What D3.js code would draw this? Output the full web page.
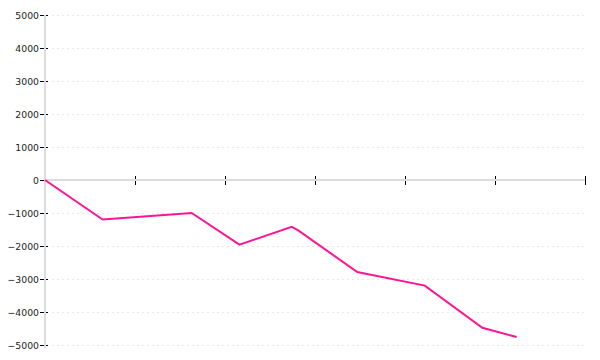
<!DOCTYPE html>
<html>
<head>
<meta charset="utf-8">
<script src="https://cdn.jsdelivr.net/npm/d3@7"></script>
<style>
  body { margin: 0; background: #fff; }
  .tick-label { font-family: "DejaVu Sans", sans-serif; font-size: 9.3px; fill: #222; }
</style>
</head>
<body>
<div id="wrapper"></div>
<script>
// data
const xValues = [0, 6.4, 16.3, 21.6, 27.4, 28.1, 34.7, 42.2, 48.6, 52.4]
const yValues = [0, -1200, -1000, -1960, -1420, -1520, -2790, -3200, -4480, -4760]
const yTicks = [5000, 4000, 3000, 2000, 1000, 0, -1000, -2000, -3000, -4000, -5000]
const xTicks = [0, 10, 20, 30, 40, 50, 60]

const dimensions = {
  width: 600,
  height: 360,
  margin: { top: 15, right: 15, bottom: 15, left: 45 },
}
dimensions.boundedWidth = dimensions.width - dimensions.margin.left - dimensions.margin.right
dimensions.boundedHeight = dimensions.height - dimensions.margin.top - dimensions.margin.bottom

const svg = d3.select("#wrapper").append("svg")
    .attr("width", dimensions.width)
    .attr("height", dimensions.height)

const xScale = d3.scaleLinear()
    .domain([0, 60])
    .range([dimensions.margin.left, dimensions.margin.left + dimensions.boundedWidth])

const yScale = d3.scaleLinear()
    .domain([-5000, 5000])
    .range([dimensions.margin.top + dimensions.boundedHeight, dimensions.margin.top])

const fmt = d3.format("d")
const x0 = xScale(0)
const y0 = yScale(0)

// grid
svg.append("g").selectAll("line")
  .data(yTicks.filter(d => d != 0))
  .enter().append("line")
    .attr("x1", x0 + 7)
    .attr("x2", xScale(60))
    .attr("y1", d => Math.round(yScale(d)) + 0.5)
    .attr("y2", d => Math.round(yScale(d)) + 0.5)
    .attr("stroke", "#e8e8e8")
    .attr("stroke-dasharray", "2,3")

// y ticks + labels
const yTickG = svg.append("g").selectAll("g")
  .data(yTicks)
  .enter().append("g")
    .attr("transform", d => `translate(0, ${Math.round(yScale(d)) + 0.5})`)
yTickG.append("line")
    .attr("x1", x0 - 5)
    .attr("x2", x0 + 3)
    .attr("stroke", "#000")
yTickG.append("text")
    .attr("class", "tick-label")
    .attr("x", x0 - 6)
    .attr("dy", "0.35em")
    .attr("text-anchor", "end")
    .text(d => d < 0 ? "\u2212" + fmt(-d) : fmt(d))

// x ticks
svg.append("g").selectAll("line")
  .data(xTicks)
  .enter().append("line")
    .attr("x1", d => Math.round(xScale(d)) + 0.5)
    .attr("x2", d => Math.round(xScale(d)) + 0.5)
    .attr("y1", y0 - 4)
    .attr("y2", y0 + 5)
    .attr("stroke", "#000")

// axis lines
svg.append("line")
    .attr("x1", x0).attr("x2", x0)
    .attr("y1", yScale(5000)).attr("y2", yScale(-5000) + 3)
    .attr("stroke", "#ddd")
    .attr("stroke-width", 2)
svg.append("line")
    .attr("x1", x0).attr("x2", xScale(60))
    .attr("y1", y0).attr("y2", y0)
    .attr("stroke", "#ddd")
    .attr("stroke-width", 2)

// series
const lineGenerator = d3.line()
    .x(i => xScale(xValues[i]))
    .y(i => yScale(yValues[i]))

svg.append("path")
    .attr("d", lineGenerator(d3.range(xValues.length)))
    .attr("fill", "none")
    .attr("stroke", "#ff1493")
    .attr("stroke-width", 2)
</script>
</body>
</html>
